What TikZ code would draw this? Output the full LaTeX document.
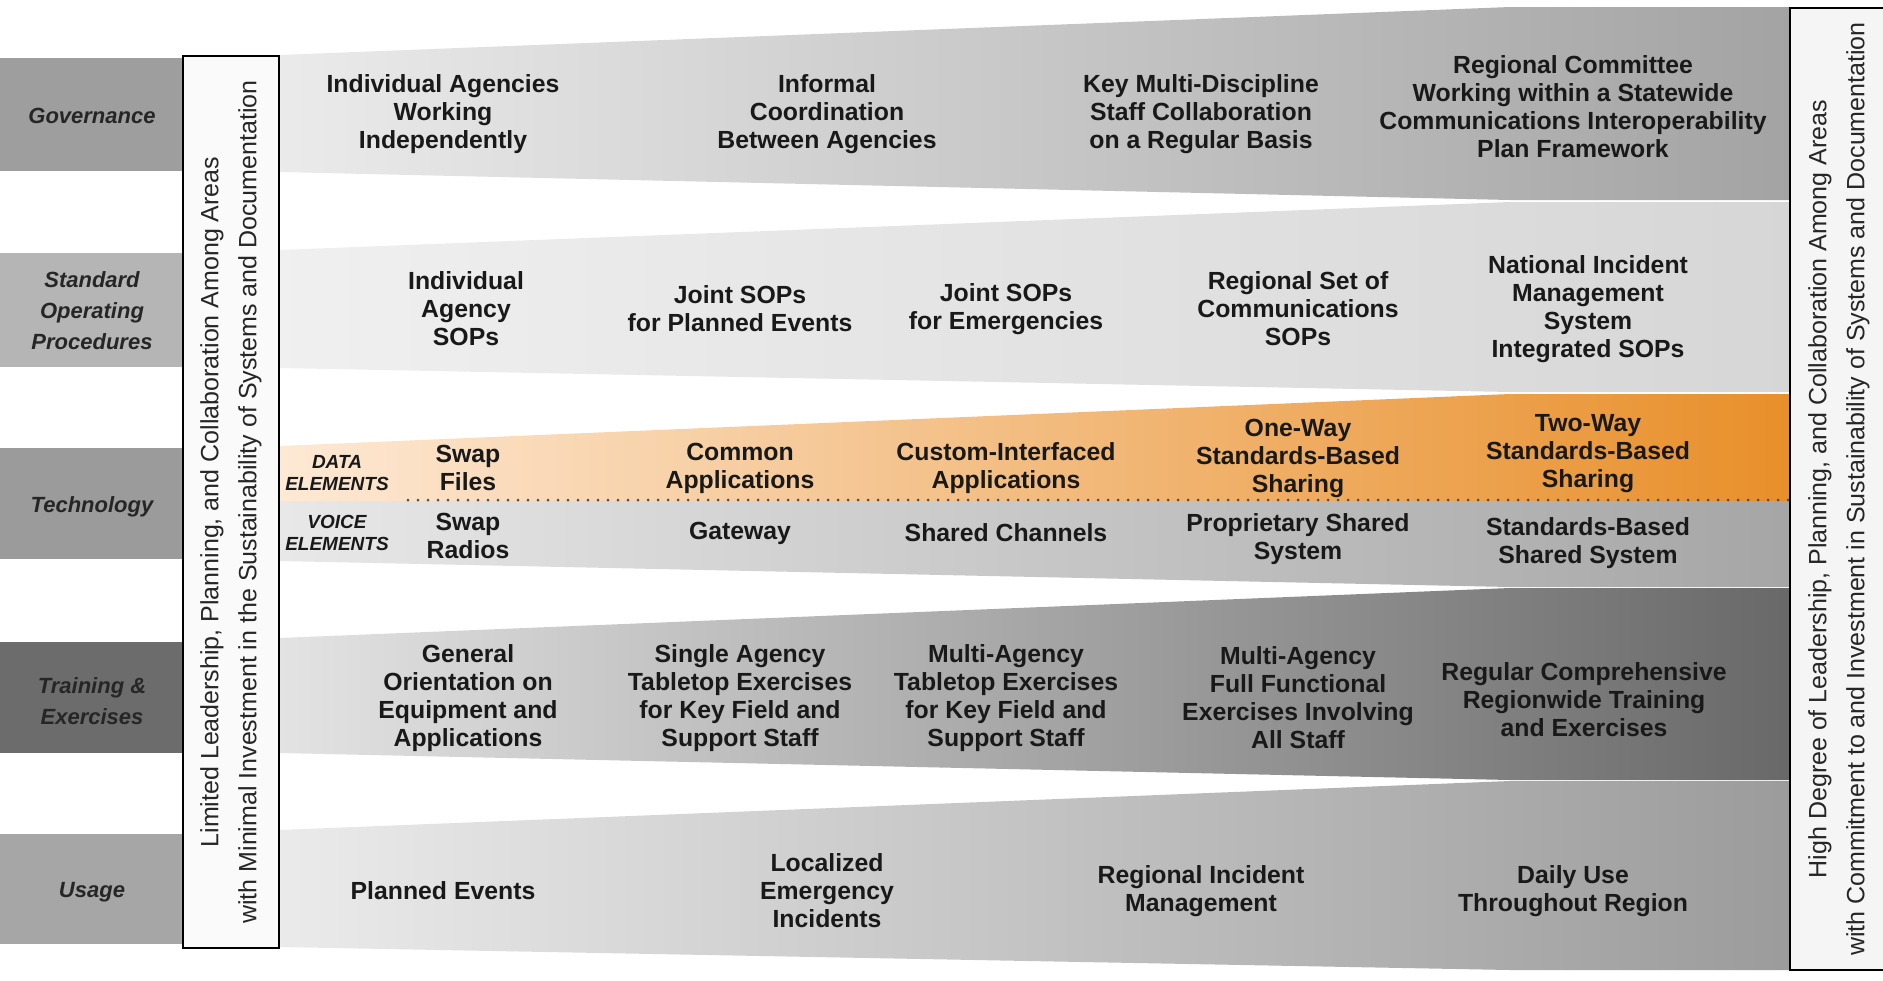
\documentclass[tikz,border=0pt]{standalone}
\usepackage{fontspec}
\setmainfont{Liberation Sans}
\usepackage{tikz}

\definecolor{govgray}{HTML}{9E9E9E}
\definecolor{sopgray}{HTML}{B5B5B5}
\definecolor{tecgray}{HTML}{9B9B9B}
\definecolor{trngray}{HTML}{6C6C6C}
\definecolor{usegray}{HTML}{A6A6A6}
\definecolor{peach}{HTML}{FDE9D5}
\definecolor{deeporange}{HTML}{E88F2A}

\begin{document}
\begin{tikzpicture}[x=0.5pt,y=-0.5pt]
        \tikzset{
        lab/.style={inner sep=0pt, align=center, text=black!85,
        font=\bfseries\itshape\fontsize{11}{15.5}\selectfont},
        cell/.style={inner sep=0pt, align=center, text=black!90,
        font=\bfseries\fontsize{12.4}{14}\selectfont},
        tag/.style={inner sep=0pt, align=center, text=black!90,
        font=\bfseries\itshape\fontsize{9.5}{10.8}\selectfont},
        side/.style={inner sep=0pt, align=center, rotate=90, text=black!85,
        font=\fontsize{12.5}{19}\selectfont},
        dotline/.style={line width=1.5pt, line cap=round,
        dash pattern=on 0pt off 5pt, black!70},
        }
        \useasboundingbox (0,0) rectangle (1883,980);

        \fill[govgray] (0,58) rectangle (183,171);
        \fill[sopgray] (0,253) rectangle (183,367);
        \fill[tecgray] (0,448) rectangle (183,559);
        \fill[trngray] (0,642) rectangle (183,753);
        \fill[usegray] (0,834) rectangle (183,944);

        \shade[left color=black!8, right color=black!36]
        (279,55) -- (1510,7) -- (1790,7) -- (1790,200) -- (1510,200) -- (279,172) -- cycle;
        \shade[left color=black!6, right color=black!16]
        (279,250) -- (1510,202) -- (1790,202) -- (1790,392) -- (1510,392) -- (279,368) -- cycle;
        \shade[left color=peach, right color=deeporange]
        (279,446) -- (1510,394) -- (1790,394) -- (1790,501) -- (279,501) -- cycle;
        \shade[left color=black!9, right color=black!35]
        (279,501) -- (1790,501) -- (1790,587) -- (1510,587) -- (279,561) -- cycle;
        \shade[left color=black!11, right color=black!59]
        (279,638) -- (1510,588) -- (1790,588) -- (1790,780) -- (1510,780) -- (279,753) -- cycle;
        \shade[left color=black!8, right color=black!39]
        (279,830) -- (1510,781) -- (1790,781) -- (1790,970) -- (1510,970) -- (279,947) -- cycle;

        \filldraw[fill=black!2, draw=black, line width=0.9pt] (183,56) rectangle (279,948);
        \filldraw[fill=black!4, draw=black, line width=0.9pt] (1790,8) rectangle (1895,970);

        \node[side] (low) at (231,502) {Limited Leadership, Planning, and Collaboration Among Areas\\with Minimal Investment in the Sustainability of Systems and Documentation};
        \node[side] (high) at (1839,489) {High Degree of Leadership, Planning, and Collaboration Among Areas\\with Commitment to and Investment in Sustainability of Systems and Documentation};

        \node[lab] (gov) at (92,116) {Governance};
        \node[lab] (sop) at (92,311) {Standard\\Operating\\Procedures};
        \node[lab] (tec) at (92,507) {Technology};
        \node[lab] (trn) at (92,701) {Training \&\\Exercises};
        \node[lab] (use) at (92,892) {Usage};

        \node[cell] (g1) at (443,114) {Individual Agencies\\Working\\Independently};
        \node[cell] (g2) at (827,114) {Informal\\Coordination\\Between Agencies};
        \node[cell] (g3) at (1201,114) {Key Multi-Discipline\\Staff Collaboration\\on a Regular Basis};
        \node[cell] (g4) at (1573,107) {Regional Committee\\Working within a Statewide\\Communications Interoperability\\Plan Framework};

        \node[cell] (s1) at (466,309) {Individual\\Agency\\SOPs};
        \node[cell] (s2) at (740,309) {Joint SOPs\\for Planned Events};
        \node[cell] (s3) at (1006,309) {Joint SOPs\\for Emergencies};
        \node[cell] (s4) at (1298,309) {Regional Set of\\Communications\\SOPs};
        \node[cell] (s5) at (1588,309) {National Incident\\Management\\System\\Integrated SOPs};

        \node[tag] (data) at (337,473) {DATA\\ELEMENTS};
        \node[tag] (voice) at (337,533) {VOICE\\ELEMENTS};

        \node[cell] (d1) at (468,468) {Swap\\Files};
        \node[cell] (d2) at (740,468) {Common\\Applications};
        \node[cell] (d3) at (1006,468) {Custom-Interfaced\\Applications};
        \node[cell] (d4) at (1298,458) {One-Way\\Standards-Based\\Sharing};
        \node[cell] (d5) at (1588,454) {Two-Way\\Standards-Based\\Sharing};

        \coordinate (dl) at (408,500);
        \coordinate (dr) at (1788,500);
        \draw[dotline] (dl) -- (dr);

        \node[cell] (v1) at (468,536) {Swap\\Radios};
        \node[cell] (v2) at (740,533) {Gateway};
        \node[cell] (v3) at (1006,533) {Shared Channels};
        \node[cell] (v4) at (1298,539) {Proprietary Shared\\System};
        \node[cell] (v5) at (1588,543) {Standards-Based\\Shared System};

        \node[cell] (t1) at (468,698) {General\\Orientation on\\Equipment and\\Applications};
        \node[cell] (t2) at (740,698) {Single Agency\\Tabletop Exercises\\for Key Field and\\Support Staff};
        \node[cell] (t3) at (1006,698) {Multi-Agency\\Tabletop Exercises\\for Key Field and\\Support Staff};
        \node[cell] (t4) at (1298,698) {Multi-Agency\\Full Functional\\Exercises Involving\\All Staff};
        \node[cell] (t5) at (1584,700) {Regular Comprehensive\\Regionwide Training\\and Exercises};

        \node[cell] (u1) at (443,891) {Planned Events};
        \node[cell] (u2) at (827,891) {Localized\\Emergency\\Incidents};
        \node[cell] (u3) at (1201,891) {Regional Incident\\Management};
        \node[cell] (u4) at (1573,891) {Daily Use\\Throughout Region};
        \end{tikzpicture}
\end{document}
